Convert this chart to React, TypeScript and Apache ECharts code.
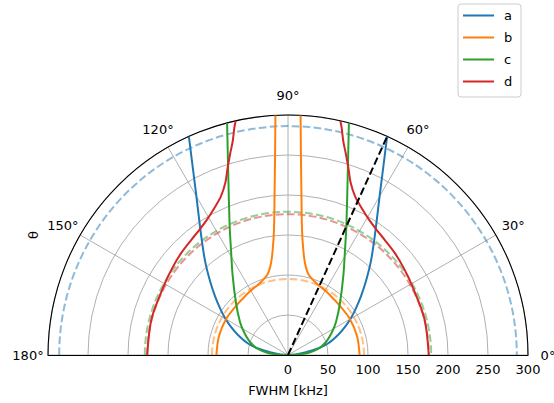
import React, { useEffect, useRef } from 'react';
import * as echarts from 'echarts';

const FONT = 'DejaVu Sans';
const seriesNames = ['a', 'b', 'c', 'd'];
const colors = ['#1f77b4', '#ff7f0e', '#2ca02c', '#d62728'];
const refColors = ['rgba(31,119,180,0.5)', 'rgba(255,127,14,0.5)', 'rgba(44,160,44,0.5)', 'rgba(214,39,40,0.5)'];

// right half of each (symmetric) curve: theta in degrees, FWHM in kHz
const aTheta = [0, 4.3, 8.4, 12.2, 16.0, 21.8, 26.2, 30.4, 34.6, 38.9, 43.5, 48.6, 54.1, 60.4, 65.6];
const aR = [0, 10, 21.5, 38.4, 52, 67.3, 79.4, 91.3, 103.3, 117.3, 134.4, 156.8, 185.3, 232.9, 300];

const bTheta = [0, 15, 30, 45, 52, 57, 62, 66.6, 70.5, 74.3, 77, 79.5, 81.7, 83.6, 85.2, 86.3, 87.0];
const bR = [89.5, 89.5, 89.5, 89.5, 90.5, 92, 93.5, 95.4, 98, 101.7, 107, 116.6, 132.6, 157.2, 200.7, 250.5, 300];

const cTheta = [0, 2.9, 5.7, 11.3, 18.9, 27.6, 34.5, 45, 55.3, 61.5, 65.8, 71.65, 75.3];
const cR = [0, 12.5, 25.1, 38.2, 50.2, 62.1, 72.8, 91.9, 121.7, 149.3, 178.1, 237.1, 300];

const dTheta = [0, 15, 30, 37, 43.5, 50, 54.6, 59, 63.4, 67, 70, 72.1, 74, 75.5, 76.7, 77.4];
const dR = [176, 176.5, 178, 181, 184.5, 188, 191.6, 197, 205.5, 215, 229, 245.6, 262, 276, 291.6, 300];

// dashed reference circles (kHz), one per series
const refRadii = [286, 95, 179, 176];

// black dashed direction
const markerAngle = 65.6;
const markerR = [0, 300];

const angleTicks = [0, 30, 60, 90, 120, 150, 180];

const CX = 288;
const CY = 355;
const R = 240;

const curves = [
  [aTheta, aR],
  [bTheta, bR],
  [cTheta, cR],
  [dTheta, dR],
];

export default function App() {
  const ref = useRef<HTMLDivElement>(null);
  useEffect(() => {
    if (!ref.current) return;
    const chart = echarts.init(ref.current, null, { renderer: 'svg' });
    const series: any[] = [];
    curves.forEach(([th, rr], k) => {
      const right = th.map((t, i) => [rr[i], t]);
      const left = th.map((t, i) => [rr[i], 180 - t]);
      [right, left].forEach((data) => {
        series.push({
          type: 'line',
          name: seriesNames[k],
          coordinateSystem: 'polar',
          data,
          symbol: 'none',
          smooth: 0.3,
          lineStyle: { color: colors[k], width: 2 },
          itemStyle: { color: colors[k] },
          z: 3,
        });
      });
    });
    series.push({
      type: 'custom',
      name: 'ref',
      coordinateSystem: 'polar',
      data: refRadii.map((r) => [r, 0]),
      z: 3,
      renderItem: (params: any, api: any) => {
        const c = api.coord([0, 0]);
        const p = api.coord([api.value(0), 0]);
        const rr = Math.hypot(p[0] - c[0], p[1] - c[1]);
        return {
          type: 'arc',
          shape: { cx: c[0], cy: c[1], r: rr, startAngle: Math.PI, endAngle: 2 * Math.PI, clockwise: true },
          style: { stroke: refColors[params.dataIndex], lineWidth: 2, lineDash: [7.7, 3.3], fill: 'none' },
        };
      },
    });
    series.push({
      type: 'line',
      name: 'marker',
      coordinateSystem: 'polar',
      data: markerR.map((r) => [r, markerAngle]),
      symbol: 'none',
      lineStyle: { color: '#000', width: 2, type: [7.7, 3.3] },
      z: 4,
    });

    const gridLine = { color: '#b0b0b0', width: 1 };
    const txt = { fontSize: 13, color: '#000', fontFamily: FONT };
    chart.setOption({
      animation: false,
      polar: { center: [CX, CY], radius: R },
      angleAxis: {
        type: 'value', min: 0, max: 180, interval: 30, startAngle: 0, endAngle: 180, clockwise: false, z: 1,
        axisLine: { show: true, lineStyle: { color: '#000', width: 1.1 } },
        axisTick: { show: false }, axisLabel: { show: false },
        splitLine: { show: true, lineStyle: gridLine },
      },
      radiusAxis: {
        type: 'value', min: 0, max: 300, interval: 50, z: 0,
        axisLine: { show: false }, axisTick: { show: false }, axisLabel: { show: false },
        splitLine: { show: true, lineStyle: gridLine },
      },
      grid: [
        { left: CX, width: R, top: CY - R, height: R, outerBoundsMode: 'none', containLabel: false },
        { left: CX - R, width: 2 * R, top: CY - R, height: R, outerBoundsMode: 'none', containLabel: false },
      ],
      xAxis: [
        {
          gridIndex: 0, type: 'value', min: 0, max: 300, interval: 50, z: 5,
          axisLine: { show: false, onZero: false }, axisTick: { show: false }, splitLine: { show: false },
          axisLabel: { margin: 8, verticalAlign: 'top', ...txt },
        },
        {
          gridIndex: 1, type: 'value', min: -300, max: 300, z: 5,
          axisLine: { show: true, onZero: false, lineStyle: { color: '#000', width: 1.1 } },
          axisTick: { show: false }, splitLine: { show: false }, axisLabel: { show: false },
          name: 'FWHM [kHz]', nameLocation: 'middle', nameGap: 29,
          nameTextStyle: txt,
        },
      ],
      yAxis: [
        { gridIndex: 0, type: 'value', show: false },
        { gridIndex: 1, type: 'value', show: false },
      ],
      legend: {
        data: seriesNames, orient: 'vertical', left: 458, top: 4, z: 8,
        icon: 'rect', padding: [5, 8, 8, 5], itemGap: 9, itemWidth: 31, itemHeight: 2,
        backgroundColor: 'transparent', borderWidth: 0,
        textStyle: { ...txt, padding: [0, 0, 0, 5] },
      },
      graphic: [
        {
          type: 'rect', z: 6,
          shape: { x: 458, y: 4, width: 63, height: 93, r: 3 },
          style: { fill: 'rgba(255,255,255,0.8)', stroke: '#cccccc', lineWidth: 1 },
        },
        ...angleTicks.map((t) => ({
          type: 'text',
          x: CX + (R + 20) * Math.cos((t * Math.PI) / 180),
          y: CY - (R + 20) * Math.sin((t * Math.PI) / 180),
          z: 5,
          style: { text: `${t}°`, fill: '#000', fontSize: 13, fontFamily: FONT, align: 'center', verticalAlign: 'middle' },
        })),
        {
          type: 'text', x: 33, y: CY - R / 2, rotation: Math.PI / 2, z: 5,
          style: { text: 'θ', fill: '#000', fontSize: 13, fontFamily: FONT, align: 'center', verticalAlign: 'middle' },
        },
      ],
      series,
    });
    return () => chart.dispose();
  }, []);
  return <div ref={ref} style={{ position: 'absolute', left: 0, top: 0, width: 554, height: 403 }} />;
}
